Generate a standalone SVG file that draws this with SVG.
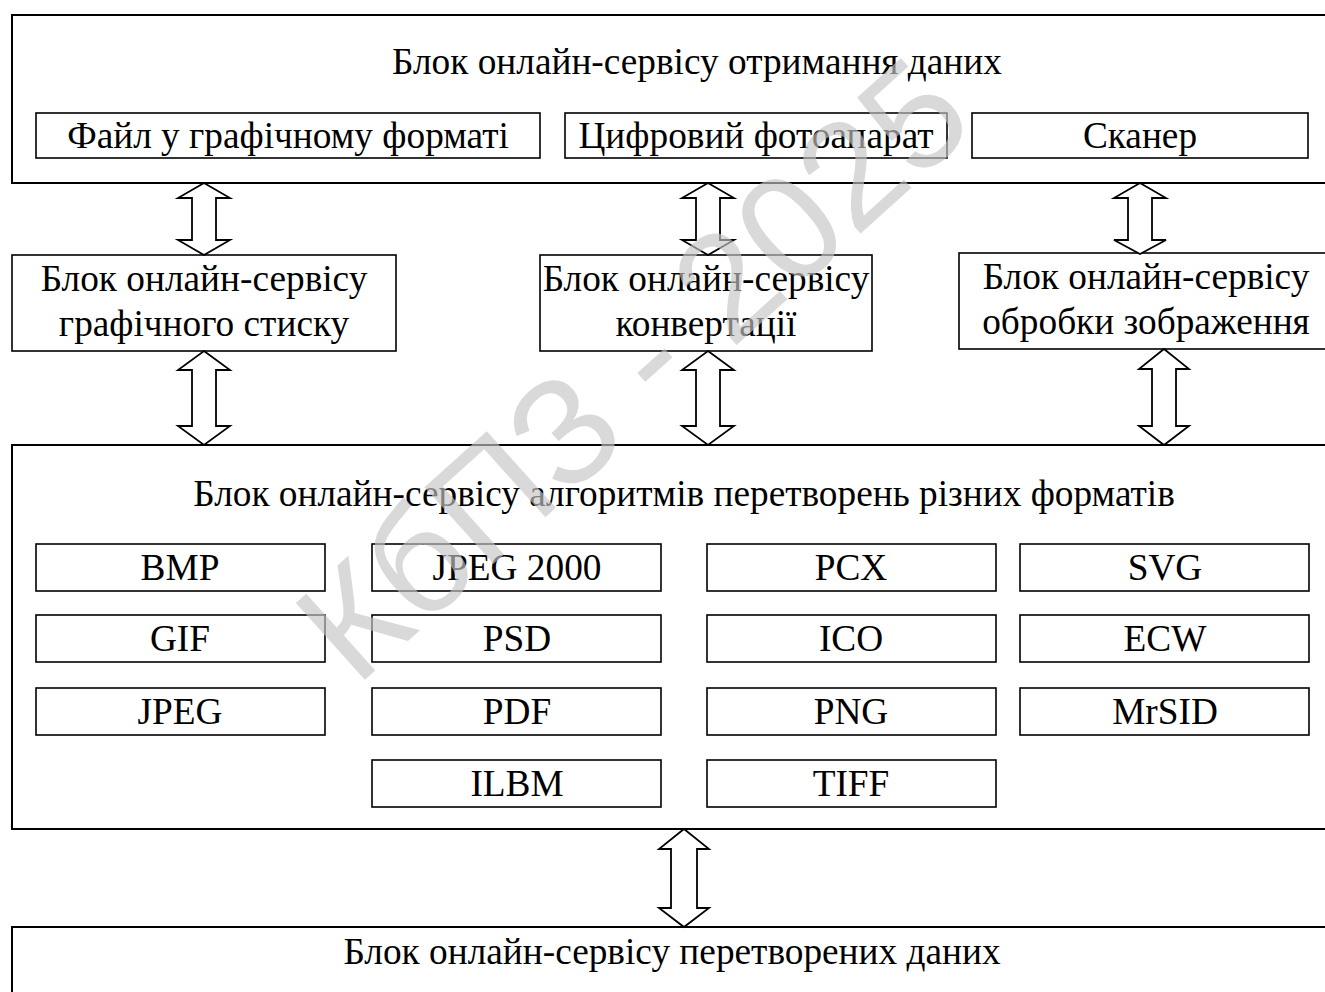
<svg xmlns="http://www.w3.org/2000/svg" width="1325" height="992" viewBox="0 0 1325 992">
<style>
.outer{fill:#fff;stroke:#000;stroke-width:2}
.inner{fill:#fff;stroke:#000;stroke-width:1.6}
.t{font-family:"Liberation Serif","Times New Roman",serif;font-size:37.3px;fill:#000;text-anchor:middle}
.arrow{fill:#fff;stroke:#000;stroke-width:1.8;stroke-linejoin:miter}
.wm{font-family:"Liberation Sans",Arial,sans-serif;font-size:150px;fill:#c4c4c4;fill-opacity:0.65;text-anchor:middle}
</style>
<rect width="1325" height="992" fill="#fff"/>
<g id="input-block">
<rect class="outer" x="12" y="15" width="1330" height="168"/>
<text class="t" x="697" y="74">Блок онлайн-сервісу отримання даних</text>
</g>
<g id="file">
<rect class="inner" x="36" y="113" width="504" height="45"/>
<text class="t" x="288" y="148">Файл у графічному форматі</text>
</g>
<g id="camera">
<rect class="inner" x="565" y="113" width="382" height="45"/>
<text class="t" x="756" y="148">Цифровий фотоапарат</text>
</g>
<g id="scanner">
<rect class="inner" x="972" y="113" width="336" height="45"/>
<text class="t" x="1140" y="148">Сканер</text>
</g>
<g id="compression">
<rect class="inner" x="12" y="255" width="384" height="96"/>
<text class="t" x="204" y="291">Блок онлайн-сервісу</text>
<text class="t" x="204" y="336">графічного стиску</text>
</g>
<g id="conversion">
<rect class="inner" x="540" y="255" width="332" height="96"/>
<text class="t" x="706" y="291">Блок онлайн-сервісу</text>
<text class="t" x="706" y="336">конвертації</text>
</g>
<g id="processing">
<rect class="inner" x="959" y="253" width="380" height="96"/>
<text class="t" x="1146" y="289">Блок онлайн-сервісу</text>
<text class="t" x="1146" y="334">обробки зображення</text>
</g>
<g id="algorithms-block">
<rect class="outer" x="12" y="445" width="1330" height="384"/>
<text class="t" x="684" y="506">Блок онлайн-сервісу алгоритмів перетворень різних форматів</text>
</g>
<g id="bmp"><rect class="inner" x="36" y="544" width="289" height="47"/><text class="t" x="180" y="580">BMP</text></g>
<g id="jpeg2000"><rect class="inner" x="372" y="544" width="289" height="47"/><text class="t" x="517" y="580">JPEG 2000</text></g>
<g id="pcx"><rect class="inner" x="707" y="544" width="289" height="47"/><text class="t" x="851" y="580">PCX</text></g>
<g id="svg"><rect class="inner" x="1020" y="544" width="289" height="47"/><text class="t" x="1165" y="580">SVG</text></g>
<g id="gif"><rect class="inner" x="36" y="615" width="289" height="47"/><text class="t" x="180" y="651">GIF</text></g>
<g id="psd"><rect class="inner" x="372" y="615" width="289" height="47"/><text class="t" x="517" y="651">PSD</text></g>
<g id="ico"><rect class="inner" x="707" y="615" width="289" height="47"/><text class="t" x="851" y="651">ICO</text></g>
<g id="ecw"><rect class="inner" x="1020" y="615" width="289" height="47"/><text class="t" x="1165" y="651">ECW</text></g>
<g id="jpeg"><rect class="inner" x="36" y="688" width="289" height="47"/><text class="t" x="180" y="724">JPEG</text></g>
<g id="pdf"><rect class="inner" x="372" y="688" width="289" height="47"/><text class="t" x="517" y="724">PDF</text></g>
<g id="png"><rect class="inner" x="707" y="688" width="289" height="47"/><text class="t" x="851" y="724">PNG</text></g>
<g id="mrsid"><rect class="inner" x="1020" y="688" width="289" height="47"/><text class="t" x="1165" y="724">MrSID</text></g>
<g id="ilbm"><rect class="inner" x="372" y="760" width="289" height="47"/><text class="t" x="517" y="796">ILBM</text></g>
<g id="tiff"><rect class="inner" x="707" y="760" width="289" height="47"/><text class="t" x="851" y="796">TIFF</text></g>
<g id="output-block">
<rect class="outer" x="12" y="927" width="1330" height="80"/>
<text class="t" x="672" y="964">Блок онлайн-сервісу перетворених даних</text>
</g>
<g id="connectors">
<path class="arrow" d="M204,183 L230,198 L216,198 L216,240 L230,240 L204,255 L178,240 L192,240 L192,198 L178,198 Z"/>
<path class="arrow" d="M708,183 L734,198 L720,198 L720,240 L734,240 L708,255 L682,240 L696,240 L696,198 L682,198 Z"/>
<path class="arrow" d="M1140,183 L1166,198 L1152,198 L1152,240 L1166,240 L1140,254 L1114,240 L1128,240 L1128,198 L1114,198 Z"/>
<path class="arrow" d="M204,351 L230,370 L216,370 L216,426 L230,426 L204,445 L178,426 L192,426 L192,370 L178,370 Z"/>
<path class="arrow" d="M708,351 L734,370 L720,370 L720,426 L734,426 L708,445 L682,426 L696,426 L696,370 L682,370 Z"/>
<path class="arrow" d="M1164,349 L1189,369 L1176,369 L1176,426 L1189,426 L1164,445 L1139,426 L1152,426 L1152,369 L1139,369 Z"/>
<path class="arrow" d="M684,829 L709,849 L697,849 L697,908 L709,908 L684,927 L659,908 L671,908 L671,849 L659,849 Z"/>
</g>
<g id="watermark" transform="translate(632,368) rotate(-42)">
<text class="wm" x="0" y="53">КбПЗ - 2025</text>
</g>
</svg>
